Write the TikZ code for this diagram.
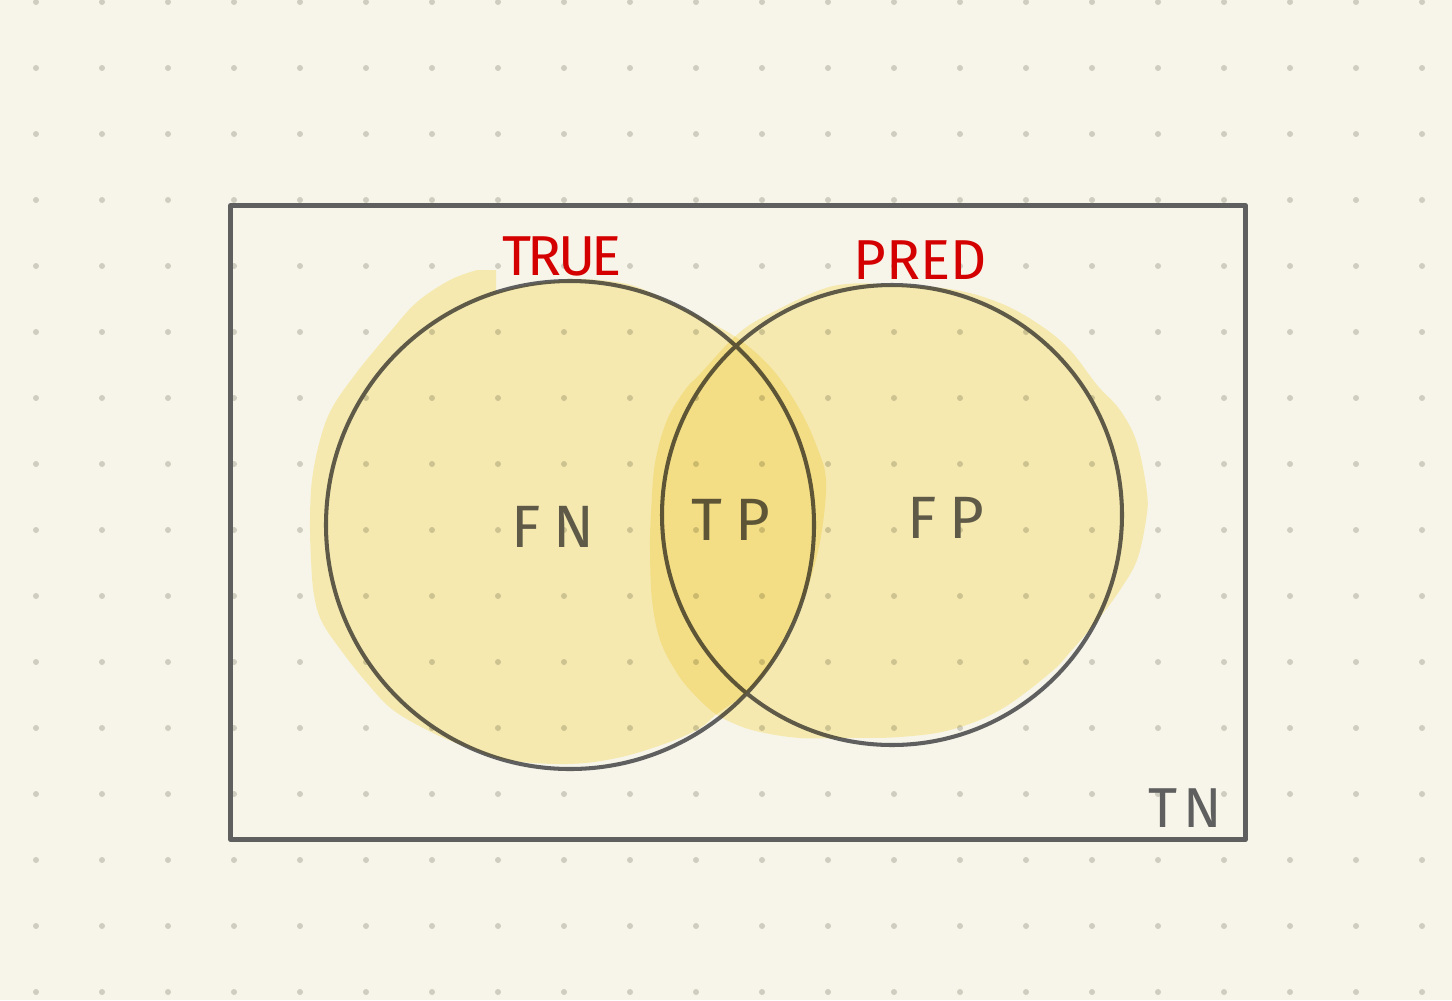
\documentclass[tikz,border=0pt]{standalone}
\usepackage{fontspec}
\setmainfont{Fira Sans}
\definecolor{paper}{RGB}{247,245,233}
\definecolor{dotgray}{RGB}{207,205,192}
\definecolor{inkgray}{RGB}{95,95,95}
\definecolor{inkred}{RGB}{212,0,0}
\definecolor{marker}{RGB}{253,243,193}
\tikzset{
  griddot/.style={fill=dotgray},
  frame/.style={draw=inkgray, line width=1.2pt, line join=round},
  ring/.style={draw=inkgray, line width=1.15pt},
  blob/.style={fill=marker, blend mode=multiply},
  setlbl/.style={text=inkred, font=\fontsize{16}{18}\selectfont},
  celllbl/.style={text=inkgray, font=\fontsize{17}{19}\selectfont\addfontfeatures{LetterSpace=22}}
}
\begin{document}
\begin{tikzpicture}[x=0.01cm, y=-0.01cm]
    % Paper
    \fill[paper] (0,0) rectangle (1452,1000);
    \useasboundingbox (0,0) rectangle (1452,1000);

    % Dot grid
    \foreach \i in {0,...,21}
        \foreach \j in {0,...,15}
            \fill[griddot] ({36+66*\i},{2+66*\j}) circle[radius=3];

    % Universe box
    \draw[frame] (230.5,205.5) rectangle (1245.5,839.5);

    % The two sets
    \draw[ring] (570,525) circle[radius=244];
    \draw[ring] (892,515) circle[radius=230];

    % Set names
    \node[setlbl, font=\fontsize{16}{18}\selectfont\addfontfeatures{LetterSpace=-6}] (true) at (562,256) {TRUE};
    \node[setlbl] (pred) at (920,260) {PRED};

    % Cells
    \node[celllbl] (fn) at (553,527) {FN};
    \node[celllbl] (tp) at (731,520) {TP};
    \node[celllbl] (fp) at (946,518) {FP};
    \node[celllbl, font=\fontsize{16}{18}\selectfont\addfontfeatures{LetterSpace=10}] (tn) at (1185,808) {TN};

    % Marker fill, left set
    \fill[blob] (496,292) -- (496,270)
        -- plot[smooth, tension=0.6] coordinates {(477,270) (450,280) (417,302)
        (390,332) (357,372) (332,408) (320,440) (312,480) (310,520) (311,560)
        (314,595) (322,622) (343,653) (367,683) (393,710) (433,733) (467,747)
        (507,760) (567,764) (617,758) (667,743) (700,728) (718,713) (745,694)
        (767,670) (787,633) (803,600) (814,567) (822,530) (826,480) (817,447)
        (800,410) (773,370) (740,340) (700,317) (660,297) (627,284) (580,279)
        (540,283) (510,289)} -- cycle;

    % Marker fill, right set
    \fill[blob] plot[smooth cycle, tension=0.6] coordinates {(847,284) (880,284)
        (950,289) (1000,303) (1040,325) (1070,350) (1097,385) (1120,410)
        (1137,443) (1147,493) (1146,520) (1137,560) (1120,590) (1100,617)
        (1072,650) (1050,673) (1000,710) (950,730) (900,737) (850,738)
        (800,738) (760,732) (735,724) (713,712) (690,690) (675,670) (660,640)
        (652,600) (650,550) (651,513) (655,463) (667,420) (685,390) (700,374)
        (740,332) (777,310) (820,290)};
\end{tikzpicture}
\end{document}
